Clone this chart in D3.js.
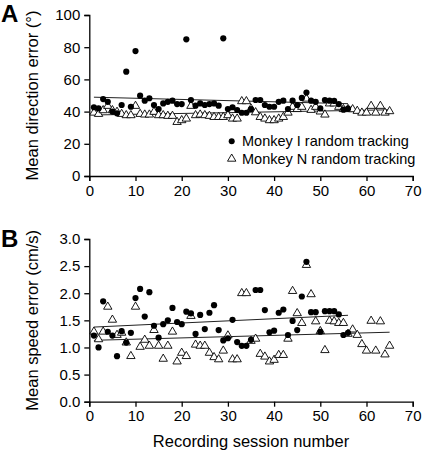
<!DOCTYPE html>
<html><head><meta charset="utf-8">
<script src="https://cdn.jsdelivr.net/npm/d3@7"></script>
<style>
body{margin:0;background:#fff;}
svg{display:block;font-family:"Liberation Sans",Arial,sans-serif;}
</style></head>
<body>
<svg id="c" width="422" height="457"></svg>
<script>
// ---- data ----
const sessionsI = d3.range(1, 57);   // Monkey I sessions 1..56
const sessionsN = d3.range(1, 66);   // Monkey N sessions 1..65

const dirI = [42.7,42.0,47.8,46.1,40.0,38.9,44.1,64.8,43.0,77.6,
  49.9,46.8,48.3,44.1,41.6,45.1,46.1,46.8,44.7,44.7,
  84.9,47.2,43.7,45.1,44.1,44.7,45.1,43.7,85.5,41.6,
  42.7,41.0,39.3,39.3,41.6,47.2,47.2,44.1,43.0,43.0,
  46.1,46.8,41.6,46.8,44.1,48.5,51.8,46.8,46.1,42.0,
  47.2,46.8,46.6,44.7,41.2,41.8];

const dirN = [39.3,38.5,40.8,43.5,40.8,39.8,38.5,37.7,37.7,43.5,
  38.5,38.1,38.1,39.8,37.7,37.7,37.3,37.3,33.5,34.6,
  35.6,43.5,37.7,38.1,37.7,37.3,36.6,36.6,36.6,37.7,
  35.6,35.6,46.4,46.4,41.8,39.5,36.6,35.6,34.6,34.6,
  35.6,36.6,39.3,42.9,41.5,42.9,48.0,41.0,42.9,40.0,
  38.1,45.0,45.0,42.9,41.5,41.5,41.4,40.4,39.3,39.3,
  43.5,39.3,43.5,39.3,40.2];

const speedI = [1.22,1.00,1.85,1.29,1.22,0.84,1.30,1.09,1.27,1.91,
  2.08,1.57,2.02,1.40,1.18,1.43,1.50,1.73,1.47,1.43,
  1.66,1.63,1.25,1.60,1.34,1.64,1.78,1.32,1.13,1.17,
  1.51,1.10,1.03,1.03,1.14,2.06,2.06,1.69,1.28,1.31,
  1.64,1.70,1.23,1.49,1.32,1.94,2.58,1.65,1.65,1.29,
  1.67,1.67,1.67,1.61,1.23,1.27];

const speedN = [1.29,1.15,1.29,1.75,1.51,1.23,1.27,1.09,0.84,1.75,
  1.01,1.14,1.03,1.32,1.03,0.79,1.03,1.29,0.74,0.90,
  0.84,1.58,1.05,1.03,1.03,0.90,0.82,0.78,0.94,1.22,
  0.78,0.78,2.00,2.00,1.12,1.16,0.88,0.83,0.74,0.77,
  0.86,0.86,1.16,2.04,1.63,1.45,2.52,1.98,1.48,1.30,
  0.95,1.49,1.48,1.45,1.45,1.25,1.33,1.23,1.06,0.94,
  1.49,0.94,1.48,0.87,1.03];

const xTicks = [0,10,20,30,40,50,60,70];
const yTicksTop = [0,20,40,60,80,100];
const yTicksBot = [0,0.5,1.0,1.5,2.0,2.5,3.0];
const legendLabels = ["Monkey I random tracking","Monkey N random tracking"];

// ---- drawing ----
const svg = d3.select("#c");
const x = d3.scaleLinear().domain([0,70]).range([89.3,412.7]);
const yTop = d3.scaleLinear().domain([0,100]).range([176,15]);
const yBot = d3.scaleLinear().domain([0,3]).range([401.7,239]);

const triPath = "M0,-4.8L4.2,2.4L-4.2,2.4Z";

function fit(xs, ys){
  const mx = d3.mean(xs), my = d3.mean(ys);
  let sxy=0, sxx=0;
  xs.forEach((v,i)=>{sxy+=(v-mx)*(ys[i]-my); sxx+=(v-mx)*(v-mx);});
  const b = sxy/sxx, a = my - b*mx;
  return v => a + b*v;
}

function panel(y, ticks, fmt, dI, dN, ylab, letter, letterY){
  const g = svg.append("g");
  const ax = g.append("g").attr("transform",`translate(0,${y.range()[0]})`)
    .call(d3.axisBottom(x).tickValues(xTicks).tickSize(5).tickPadding(4).tickFormat(d3.format("d")));
  const ay = g.append("g").attr("transform",`translate(${x.range()[0]},0)`)
    .call(d3.axisLeft(y).tickValues(ticks).tickSize(5).tickPadding(4).tickFormat(fmt));
  [ax,ay].forEach(a=>{
    a.selectAll("path").attr("stroke","#000").attr("stroke-width",1.3);
    a.selectAll("line").attr("stroke","#000").attr("stroke-width",1.3);
    a.selectAll("text").attr("font-size",15).attr("fill","#000")
      .attr("font-family","Liberation Sans, Arial, sans-serif");
  });
  [[sessionsI,dI],[sessionsN,dN]].forEach(([s,d])=>{
    const f = fit(s,d);
    g.append("line")
      .attr("x1",x(s[0])).attr("x2",x(s[s.length-1]))
      .attr("y1",y(f(s[0]))).attr("y2",y(f(s[s.length-1])))
      .attr("stroke","#222").attr("stroke-width",1);
  });
  g.selectAll(".tri").data(sessionsN).enter().append("path")
    .attr("d",triPath)
    .attr("transform",(s,i)=>`translate(${x(s)},${y(dN[i])})`)
    .attr("fill","#fff").attr("stroke","#000").attr("stroke-width",0.9);
  g.selectAll(".dot").data(sessionsI).enter().append("circle")
    .attr("cx",s=>x(s)).attr("cy",(s,i)=>y(dI[i])).attr("r",3.1)
    .attr("fill","#000");
  const cy = (y.range()[0]+y.range()[1])/2;
  g.append("text").attr("transform",`translate(38,${cy}) rotate(-90)`)
    .attr("text-anchor","middle").attr("font-size",16.5).attr("fill","#000").text(ylab);
  g.append("text").attr("x",1).attr("y",letterY).attr("font-size",24)
    .attr("font-weight","bold").attr("fill","#000").text(letter);
}

panel(yTop, yTicksTop, d3.format("d"), dirI, dirN, "Mean direction error (°)", "A", 22);
panel(yBot, yTicksBot, d3.format(".1f"), speedI, speedN, "Mean speed error (cm/s)", "B", 247);

// legend
const lg = svg.append("g");
lg.append("circle").attr("cx",231.7).attr("cy",141.3).attr("r",3.0).attr("fill","#000");
lg.append("path").attr("d",triPath).attr("transform","translate(231.7,158.8)")
  .attr("fill","#fff").attr("stroke","#000").attr("stroke-width",0.9);
lg.append("text").attr("x",242).attr("y",146).attr("font-size",14.5).attr("fill","#000").text(legendLabels[0]);
lg.append("text").attr("x",242).attr("y",163.5).attr("font-size",14.5).attr("fill","#000").text(legendLabels[1]);

// x label
svg.append("text").attr("x",251).attr("y",447).attr("text-anchor","middle")
  .attr("font-size",16.5).attr("fill","#000").text("Recording session number");
</script>
</body></html>
